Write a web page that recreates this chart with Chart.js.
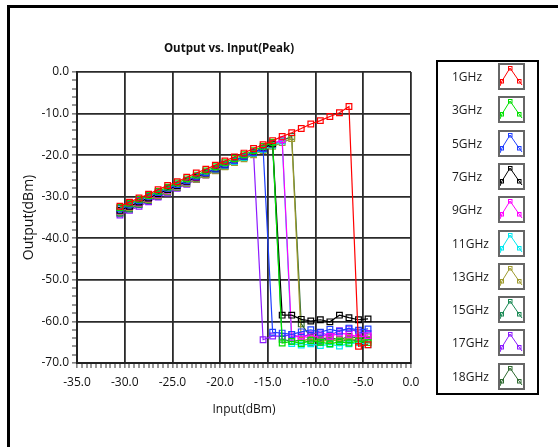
<!DOCTYPE html>
<html>
<head>
<meta charset="utf-8">
<script src="https://cdn.jsdelivr.net/npm/chart.js@4.4.0/dist/chart.umd.min.js"></script>
<style>
body { margin: 0; background: #fff; }
#wrap { position: relative; width: 558px; height: 447px; overflow: hidden; }
#frame { position: absolute; left: 7px; top: 5px; right: -10px; bottom: -10px; border-left: 3px solid #000; border-top: 3px solid #000; pointer-events: none; }
#title { position: absolute; left: 129px; width: 200px; top: 39px; text-align: center; font: bold 11.5px "Open Sans", "Liberation Sans", sans-serif; line-height: 17px; color: #111; }
#legend { position: absolute; left: 436px; top: 60px; width: 99px; height: 331px; border: 2px solid #000; background: #fff; }
.row { position: absolute; left: 0; width: 100%; height: 27px; }
.row span { position: absolute; left: 14px; top: 0; font: 12px "Open Sans", "Liberation Sans", sans-serif; line-height: 27px; color: #1a1a1a; }
.icon { position: absolute; left: 60px; top: 0; width: 23px; height: 23px; border: 2px solid #666; background: #fff; }
</style>
</head>
<body>
<div id="wrap">
  <canvas id="myChart" width="558" height="447"></canvas>
  <div id="frame"></div>
  <div id="title">Output vs. Input(Peak)</div>
  <div id="legend"></div>
</div>
<script>
// input power sweep (dBm)
const inputs = [-30.5, -29.5, -28.5, -27.5, -26.5, -25.5, -24.5, -23.5, -22.5, -21.5, -20.5, -19.5, -18.5, -17.5,
                -16.5, -15.5, -14.5, -13.5, -12.5, -11.5, -10.5, -9.5, -8.5, -7.5, -6.5, -5.5, -4.5];

const freqLabels = ['1GHz', '3GHz', '5GHz', '7GHz', '9GHz', '11GHz', '13GHz', '15GHz', '17GHz', '18GHz'];
const freqColors = ['#ff0000', '#00e000', '#1f3fff', '#000000', '#ff00ff', '#00e8f0', '#9e9a2e', '#1b8a55', '#8c1aff', '#2f6a30'];

// output power (dBm) per frequency
const out1GHz  = [-32.3, -31.3, -30.3, -29.4, -28.3, -27.3, -26.4, -25.3, -24.3, -23.4, -22.4, -21.4, -20.4, -19.5,
                  -18.4, -17.5, -16.5, -15.5, -14.6, -13.6, -12.5, -11.7, -10.7, -9.8, -8.3, -66.0, -65.6];
const out3GHz  = [-32.6, -31.6, -30.6, -29.7, -28.7, -27.7, -26.7, -25.7, -24.8, -23.8, -22.8, -21.8, -20.8, -19.9,
                  -18.9, -17.9, -16.9, -65.2, -64.8, -65.3, -64.6, -65.0, -65.4, -64.9, -65.2, -64.7, -65.1];
const out5GHz  = [-32.8, -31.8, -30.9, -29.9, -29.0, -28.0, -27.1, -26.1, -25.1, -24.2, -23.2, -22.2, -21.3, -20.3,
                  -19.4, -18.4, -62.6, -62.8, -63.1, -62.5, -62.0, -62.6, -61.9, -62.4, -61.6, -62.1, -61.8];
const out7GHz  = [-33.3, -32.3, -31.3, -30.3, -29.3, -28.3, -27.3, -26.3, -25.3, -24.3, -23.3, -22.3, -21.3, -20.3,
                  -19.3, -18.3, -17.3, -58.5, -58.5, -59.5, -59.9, -59.6, -60.1, -58.5, -59.1, -59.6, -59.4];
const out9GHz  = [-33.4, -32.4, -31.4, -30.4, -29.4, -28.4, -27.4, -26.4, -25.4, -24.3, -23.3, -22.3, -21.3, -20.3,
                  -19.3, -18.3, -17.3, -16.3, -63.8, -63.5, -64.0, -63.3, -63.6, -62.8, -63.1, -63.7, -63.4];
const out11GHz = [-33.2, -32.2, -31.2, -30.3, -29.3, -28.3, -27.4, -26.4, -25.4, -24.4, -23.4, -22.5, -21.5, -20.5,
                  -19.5, -18.6, -17.6, -16.6, -65.3, -65.7, -65.4, -65.8, -65.5, -65.9, -65.4, -65.1, -65.6];
const out13GHz = [-33.6, -32.6, -31.6, -30.7, -29.7, -28.7, -27.7, -26.8, -25.8, -24.8, -23.8, -22.8, -21.8, -20.9,
                  -19.9, -18.9, -17.9, -17.0, -16.0, -64.6, -64.2, -64.9, -64.4, -64.7, -64.1, -64.5, -64.3];
const out15GHz = [-33.9, -32.9, -31.8, -30.8, -29.8, -28.8, -27.7, -26.7, -25.7, -24.7, -23.6, -22.6, -21.6, -20.6,
                  -19.5, -18.5, -17.5, -64.3, -64.8, -64.5, -65.0, -64.6, -64.2, -64.9, -64.4, -64.7, -64.5];
const out17GHz = [-34.4, -33.3, -32.3, -31.2, -30.1, -29.1, -28.0, -27.0, -25.9, -24.8, -23.7, -22.7, -21.6, -20.5,
                  -19.4, -64.4, -63.5, -63.6, -63.2, -63.8, -63.0, -62.7, -63.4, -62.2, -61.8, -62.5, -62.9];
const out18GHz = [-34.0, -33.0, -31.9, -30.9, -29.9, -28.8, -27.8, -26.8, -25.8, -24.7, -23.7, -22.7, -21.6, -20.6,
                  -19.6, -18.6, -17.5, -16.5, -15.5, -60.6, -63.8, -64.2, -63.9, -64.4, -63.6, -64.0, -63.7];

const outputs = [out1GHz, out3GHz, out5GHz, out7GHz, out9GHz, out11GHz, out13GHz, out15GHz, out17GHz, out18GHz];

const tickFont = { family: '"Open Sans", "Liberation Sans", sans-serif', size: 12 };

const datasets = freqLabels.map((name, i) => ({
    label: name,
    data: inputs.map((x, j) => ({ x: x, y: outputs[i][j] })),
    borderColor: freqColors[i],
    backgroundColor: freqColors[i],
    borderWidth: 1.2,
    pointStyle: 'rect',
    pointRadius: 4,
    pointBorderWidth: 1.2,
    pointBackgroundColor: 'rgba(255,255,255,0)',
    pointBorderColor: freqColors[i],
    tension: 0
}));

const config = {
    type: 'line',
    data: { datasets: datasets },
    options: {
        responsive: false,
        animation: false,
        layout: { padding: { left: 10, right: 147, top: 72, bottom: 24 } },
        plugins: { legend: { display: false }, title: { display: false }, tooltip: { enabled: false } },
        scales: {
            x: {
                type: 'linear',
                min: -35, max: 0,
                afterFit: (scale) => { scale.height = 60; },
                ticks: {
                    stepSize: 0.5, autoSkip: false, maxRotation: 0, minRotation: 0, padding: 7,
                    font: tickFont, color: '#111',
                    callback: (v) => (Math.abs(v % 5) < 1e-6 ? v.toFixed(1) : '')
                },
                grid: {
                    color: (c) => (Math.abs(c.tick.value % 5) < 1e-6 ? '#2a2a2a' : 'rgba(0,0,0,0)'),
                    lineWidth: (c) => (Math.abs(c.tick.value % 5) < 1e-6 ? 1.8 : 0),
                    tickColor: '#333', tickWidth: 1, tickLength: 5
                },
                border: { display: true, color: '#222', width: 2 },
                title: {
                    display: true, text: 'Input(dBm)', color: '#111',
                    font: { family: '"Open Sans", "Liberation Sans", sans-serif', size: 12 },
                    padding: { top: 0, bottom: 6 }
                }
            },
            y: {
                min: -70, max: 0,
                afterFit: (scale) => { scale.width = 67; },
                ticks: {
                    stepSize: 2, autoSkip: false, padding: 3,
                    font: tickFont, color: '#111',
                    callback: (v) => (Math.abs(v % 10) < 1e-6 ? v.toFixed(1) : '')
                },
                grid: {
                    color: (c) => (Math.abs(c.tick.value % 10) < 1e-6 ? '#2a2a2a' : 'rgba(0,0,0,0)'),
                    lineWidth: (c) => (Math.abs(c.tick.value % 10) < 1e-6 ? 1.8 : 0),
                    tickColor: '#333', tickWidth: 1, tickLength: 5
                },
                border: { display: true, color: '#222', width: 2 },
                title: {
                    display: true, text: 'Output(dBm)', color: '#111',
                    font: { family: '"Open Sans", "Liberation Sans", sans-serif', size: 14 },
                    padding: { top: 11, bottom: 4 }
                }
            }
        }
    }
};

const myChart = new Chart(document.getElementById('myChart'), config);

// legend box on the right: label text, then a small line+marker glyph
const legend = document.getElementById('legend');
freqLabels.forEach((name, i) => {
    const row = document.createElement('div');
    row.className = 'row';
    row.style.top = (1 + i * 33.3) + 'px';
    const c = freqColors[i];
    row.innerHTML = '<span>' + name + '</span>' +
        '<div class="icon"><svg width="23" height="23">' +
        '<polyline points="0,21 2,16 10,3 19,16 22,20" fill="none" stroke="' + c + '" stroke-width="1"/>' +
        '<rect x="0.5" y="14.5" width="3" height="3.5" fill="none" stroke="' + c + '"/>' +
        '<rect x="8.5" y="1.5" width="3.5" height="3.5" fill="none" stroke="' + c + '"/>' +
        '<rect x="17.5" y="14.5" width="3.5" height="3.5" fill="none" stroke="' + c + '"/>' +
        '</svg></div>';
    legend.appendChild(row);
});
</script>
</body>
</html>
